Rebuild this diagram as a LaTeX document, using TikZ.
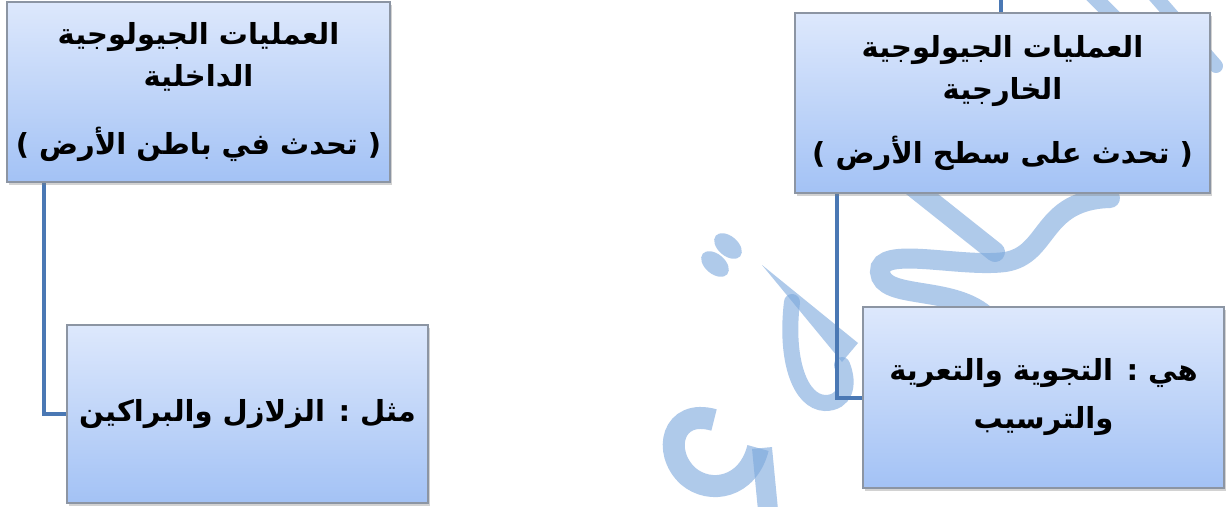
\documentclass[tikz,border=0pt]{standalone}
\usepackage{fontspec}
\newfontfamily\arabicfont[Script=Arabic]{DejaVu Sans}
\newfontfamily\parenfont{DejaVu Sans}
\TeXXeTstate=1
\usetikzlibrary{shadows}
\definecolor{boxtop}{HTML}{DDE8FC}
\definecolor{boxbot}{HTML}{A3C2F5}
\definecolor{boxline}{HTML}{8C95A3}
\definecolor{connblue}{HTML}{4A78B4}
\definecolor{wmblue}{HTML}{7BA7DC}
\pgfdeclarelayer{wmlayer}
\pgfdeclarelayer{bglayer}
\pgfsetlayers{wmlayer,bglayer,main}
\newcommand{\lpar}{{\parenfont\bfseries (}}
\newcommand{\rpar}{{\parenfont\bfseries )}}
\tikzset{
  procbox/.style={draw=boxline, line width=1.5pt, top color=boxtop, bottom color=boxbot,
    drop shadow={shadow xshift=2pt,shadow yshift=-3pt,opacity=0.35},
    inner sep=0pt, align=center,
    font=\arabicfont\bfseries\fontsize{29}{42}\selectfont},
  conn/.style={draw=connblue, line width=4pt},
  wm/.style={draw=wmblue, draw opacity=0.6, line cap=round},
  wmfill/.style={fill=wmblue, fill opacity=0.6},
}
\begin{document}
\begin{tikzpicture}[x=1pt,y=-1pt]
\useasboundingbox (0,0) rectangle (1226,506);
\begin{pgfonlayer}{wmlayer}
  \fill[white] (0,0) rectangle (1226,506);
  % watermark (approximate)
  \draw[wm, line width=15pt] (1085,-12) -- (1190,93);
  \draw[wm, line width=14pt] (1148,-12) -- (1216,66);
  \draw[wm, line width=20pt] (912,186) -- (995,252);
  \draw[wm, line width=20pt] (1110,198) .. controls (1040,200) and (1050,255) .. (1005,262)
        .. controls (960,268) and (878,245) .. (880,272)
        .. controls (882,300) and (950,285) .. (985,315);
  \fill[wmfill] (762,265) -- (858,343) -- (842,362) -- cycle;
  \draw[wm, line width=16pt] (792,302) .. controls (785,360) and (800,402) .. (825,403)
        .. controls (845,403) and (850,385) .. (842,365);
  \draw[wm, line width=22pt, line cap=butt] (714,420) .. controls (672,408) and (662,452) .. (688,476)
        .. controls (710,495) and (748,488) .. (758,448);
  \draw[wm, line width=20pt, line cap=butt] (762,448) -- (768,510);
  \fill[wmfill, rotate around={-40:(728,246)}] (728,246) ellipse [x radius=16, y radius=10];
  \fill[wmfill, rotate around={-40:(715,264)}] (715,264) ellipse [x radius=16, y radius=10];
\end{pgfonlayer}

\node[procbox, minimum width=383pt, minimum height=180pt] (lt) at (198.5,92)
  {\beginR العمليات الجيولوجية\endR\\ \beginR الداخلية\endR\\[26pt] \lpar\ \beginR تحدث في باطن الأرض\endR\ \rpar};
\node[procbox, minimum width=361pt, minimum height=178pt] (lc) at (247.5,414)
  {\beginR مثل : الزلازل والبراكين\endR};
\node[procbox, minimum width=415pt, minimum height=180pt] (rt) at (1002.5,103)
  {\beginR العمليات الجيولوجية\endR\\ \beginR الخارجية\endR\\[22pt] \lpar\ \beginR تحدث على سطح الأرض\endR\ \rpar};
\node[procbox, minimum width=361pt, minimum height=181pt] (rc) at (1043.5,397.5)
  {\beginR هي : التجوية والتعرية\endR\\[6pt] \beginR والترسيب\endR};

\coordinate (lx) at (44,0);
\coordinate (rx) at (837,0);
\coordinate (rtop) at (1001,-6);
\begin{pgfonlayer}{bglayer}
  \draw[conn] (lt.south -| lx) |- (lc.west);
  \draw[conn] (rt.south -| rx) |- (rc.west);
  \draw[conn] (rt.north -| rtop) -- (rtop);
\end{pgfonlayer}
\end{tikzpicture}
\end{document}
